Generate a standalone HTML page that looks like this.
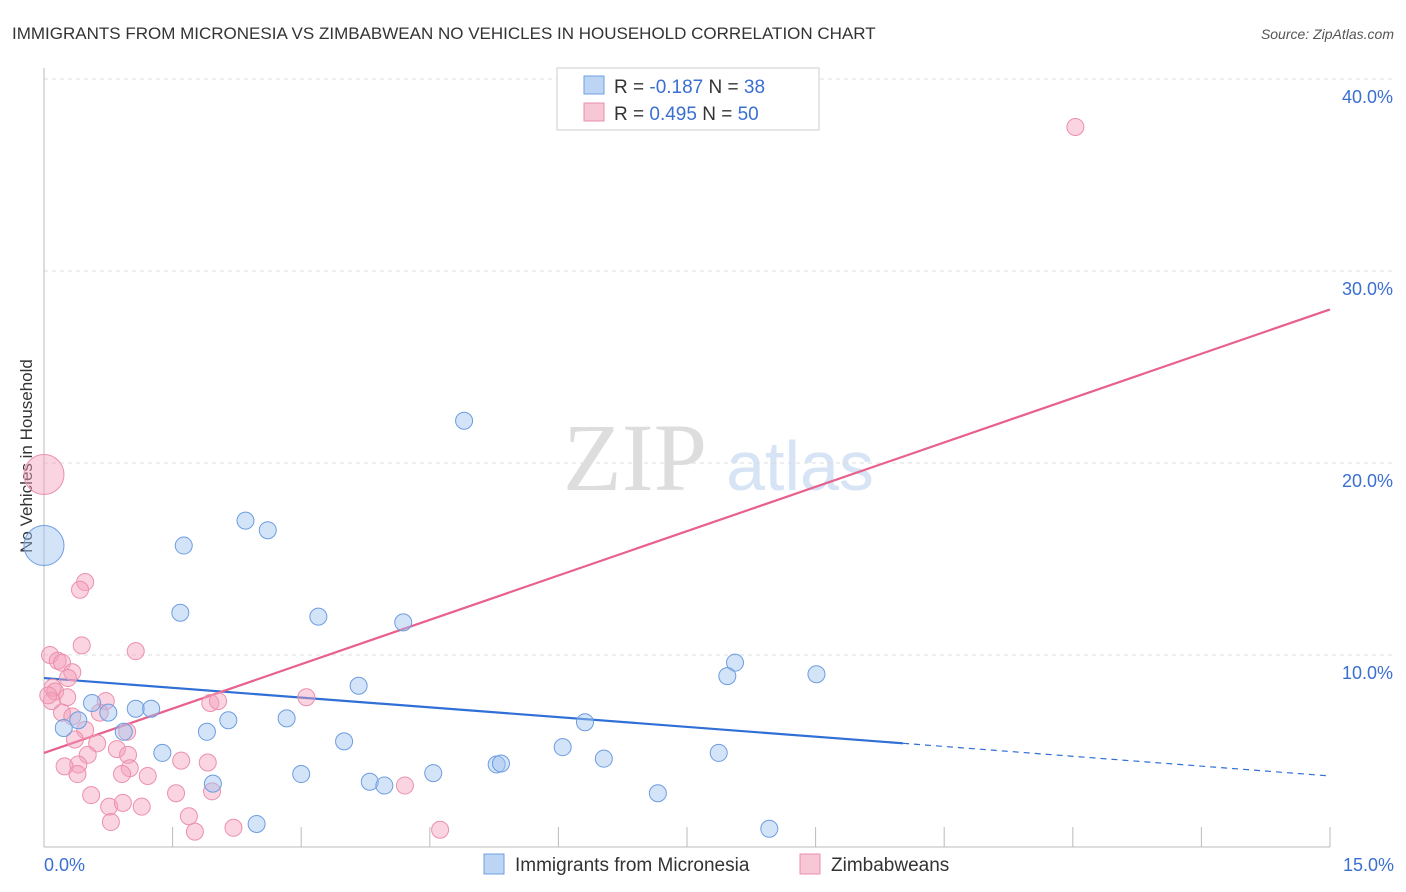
<!DOCTYPE html>
<html><head><meta charset="utf-8">
<style>
body{margin:0;background:#fff;font-family:"Liberation Sans",sans-serif;}
#wrap{position:relative;width:1406px;height:892px;overflow:hidden;}
</style></head>
<body>
<div id="wrap">
<svg id="chart" width="1406" height="892" xmlns="http://www.w3.org/2000/svg" font-family="Liberation Sans, sans-serif">
<text x="12" y="39" font-size="17" fill="#333">IMMIGRANTS FROM MICRONESIA VS ZIMBABWEAN NO VEHICLES IN HOUSEHOLD CORRELATION CHART</text>
<text x="1394" y="39" font-size="14" fill="#555" font-style="italic" text-anchor="end">Source: ZipAtlas.com</text>
<text x="32" y="456" font-size="17" fill="#333" text-anchor="middle" transform="rotate(-90 32 456)">No Vehicles in Household</text>
<g><text x="635" y="490" font-size="96" fill="#ddd" font-family="Liberation Serif, serif" text-anchor="middle">ZIP</text><text x="800" y="490" font-size="70" fill="#d6e4f5" text-anchor="middle">atlas</text></g>
<g id="grid"></g><g id="axes"></g><g id="lines"></g><g id="pts"></g>
<g>
<rect x="557" y="68" width="262" height="62" fill="#fff" stroke="#ccc"/>
<rect x="584" y="76" width="20" height="18" fill="#bcd5f5" stroke="#6f9fe0"/>
<rect x="584" y="103" width="20" height="18" fill="#f8c7d5" stroke="#ea8fab"/>
<text x="614" y="93" font-size="19" fill="#333">R = <tspan fill="#3a6fd1">-0.187</tspan>   N = <tspan fill="#3a6fd1">38</tspan></text>
<text x="614" y="120" font-size="19" fill="#333">R = <tspan fill="#3a6fd1"> 0.495</tspan>   N = <tspan fill="#3a6fd1">50</tspan></text>
</g>
<g>
<rect x="484" y="854" width="20" height="20" fill="#bcd5f5" stroke="#6f9fe0"/>
<text x="515" y="871" font-size="19" fill="#333">Immigrants from Micronesia</text>
<rect x="800" y="854" width="20" height="20" fill="#f8c7d5" stroke="#ea8fab"/>
<text x="831" y="871" font-size="19" fill="#333">Zimbabweans</text>
</g>
</svg>
</div>
<script>
const xTicks=[0,1.5,3,4.5,6,7.5,9,10.5,12,13.5,15];
const yTicks=[10,20,30,40];
const yTickLabels=["10.0%","20.0%","30.0%","40.0%"];
const xTickLabels=["0.0%","15.0%"];
const blueX=[0,4.9,2.35,2.61,1.63,1.59,3.2,4.19,8.06,7.97,9.01,3.67,0.56,0.75,1.07,1.25,0.23,0.4,0.93,1.9,2.15,2.83,6.31,3.5,1.38,6.05,7.87,6.53,5.28,5.33,3.0,4.54,3.8,3.97,1.97,7.16,2.48,8.46];
const blueY=[15.7,22.2,17.0,16.5,15.7,12.2,12.0,11.7,9.6,8.9,9.0,8.4,7.5,7.0,7.2,7.2,6.2,6.6,6.0,6.0,6.6,6.7,6.5,5.5,4.9,5.2,4.9,4.6,4.3,4.35,3.8,3.85,3.4,3.2,3.3,2.8,1.2,0.95];
const pinkX=[12.03,0,0.48,0.42,0.44,1.07,0.07,0.16,0.21,0.33,0.28,0.1,0.13,0.27,0.09,0.72,0.21,0.33,0.65,0.48,0.97,0.36,0.62,0.85,0.98,0.51,0.4,0.24,0.39,1.0,0.91,1.21,1.6,1.91,1.94,2.03,3.06,0.55,0.76,0.92,1.14,1.54,1.96,0.78,1.69,1.76,2.21,4.21,4.62,0.05];
const pinkY=[37.5,19.4,13.8,13.4,10.5,10.2,10.0,9.7,9.6,9.1,8.8,8.3,8.1,7.8,7.6,7.6,7.0,6.8,7.0,6.1,6.0,5.6,5.4,5.1,4.8,4.8,4.3,4.2,3.8,4.1,3.8,3.7,4.5,4.4,7.5,7.6,7.8,2.7,2.1,2.3,2.1,2.8,2.9,1.3,1.6,0.8,1.0,3.2,0.9,7.9];
const blueTrend=[[0,8.8],[10.02,5.4],[15,3.7]];
const pinkTrend=[[0,4.9],[15,28]];
const X0=44,X1=1330,Y0=847,PPU=19.2;
const sx=v=>X0+(v/15)*(X1-X0), sy=v=>Y0-v*PPU;
const NS="http://www.w3.org/2000/svg";
function mk(tag,attrs,parent){const e=document.createElementNS(NS,tag);for(const k in attrs)e.setAttribute(k,attrs[k]);document.getElementById(parent).appendChild(e);return e;}
yTicks.forEach((t,i)=>{
 const g=mk('line',{x1:X0,x2:1394,y1:sy(t),y2:sy(t),stroke:'#ddd','stroke-dasharray':'4 4'},'grid');
 
 
 const l=mk('text',{x:1393,y:sy(t)+24,'font-size':18,fill:'#3a6fd1','text-anchor':'end'},'axes');
 l.textContent=yTickLabels[i];
 
 
});
const ax=mk('line',{x1:X0,x2:X0,y1:68,y2:Y0,stroke:'#bbb'},'axes');


const bx=mk('line',{x1:X0,x2:X1,y1:Y0,y2:Y0,stroke:'#bbb'},'axes');


xTicks.forEach(t=>{
 const e=mk('line',{x1:sx(t),x2:sx(t),y1:Y0,y2:Y0-20,stroke:'#bbb'},'axes');
 
 
});
[[0,'start',44],[15,'end',1394]].forEach((d,i)=>{
 const l=mk('text',{x:d[2],y:871,'font-size':18,fill:'#3a6fd1','text-anchor':d[1]},'axes');
 l.textContent=xTickLabels[i];
 
 
});
const bs=mk('line',{x1:sx(blueTrend[0][0]),y1:sy(blueTrend[0][1]),x2:sx(blueTrend[1][0]),y2:sy(blueTrend[1][1]),stroke:'#2f6fd6','stroke-width':2.2},'lines');


const bd=mk('line',{x1:sx(blueTrend[1][0]),y1:sy(blueTrend[1][1]),x2:sx(blueTrend[2][0]),y2:sy(blueTrend[2][1]),stroke:'#2f6fd6','stroke-width':1.2,'stroke-dasharray':'6 5'},'lines');


const pl=mk('line',{x1:sx(pinkTrend[0][0]),y1:sy(pinkTrend[0][1]),x2:sx(pinkTrend[1][0]),y2:sy(pinkTrend[1][1]),stroke:'#e8608c','stroke-width':2.2},'lines');


pinkX.forEach((x,i)=>{
 const c=mk('circle',{cx:sx(x),cy:sy(pinkY[i]),r:i==1?20:8.5,fill:'rgba(244,160,186,0.45)',stroke:'#ec90ad','stroke-width':1},'pts');
 
 
});
blueX.forEach((x,i)=>{
 const c=mk('circle',{cx:sx(x),cy:sy(blueY[i]),r:i==0?20:8.5,fill:'rgba(160,195,240,0.45)',stroke:'#6c9de0','stroke-width':1},'pts');
 
 
});
</script>
</body></html>
